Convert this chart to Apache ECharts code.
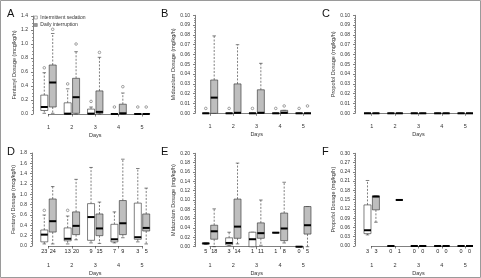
<!DOCTYPE html>
<html>
<head>
<meta charset="utf-8">
<script src="https://cdn.jsdelivr.net/npm/echarts@6/dist/echarts.min.js"></script>
<style>
  html, body { margin: 0; padding: 0; background: #fff; }
  #main { width: 481px; height: 278px; }
</style>
</head>
<body>
<div id="main"></div>
<script>
// 每组数据: [min, Q1, median, Q3, max]，按第 1-5 天排列
var days = [1, 2, 3, 4, 5];
var seriesNames = ['Intermittent sedation', 'Daily interruption'];

// A 芬太尼（未调整）
var fentA_sed = [[0.01, 0.05, 0.10, 0.27, 0.59], [0, 0, 0.005, 0.16, 0.36], [0, 0, 0.005, 0.07, 0.10], [0, 0, 0, 0.005, 0.005], [0, 0, 0, 0.005, 0.005]];
var fentA_int = [[0.01, 0.10, 0.45, 0.70, 1.15], [0, 0.01, 0.24, 0.51, 0.89], [0, 0.01, 0.03, 0.33, 0.81], [0, 0, 0.01, 0.14, 0.30], [0, 0, 0, 0.005, 0.005]];
var fentA_sedOut = [[1, 0.66], [2, 0.43], [3, 0.18], [4, 0.10], [5, 0.10]];
var fentA_intOut = [[1, 1.21], [2, 1.00], [3, 0.88], [4, 0.39], [5, 0.10]];

// B 咪达唑仑
var midaB_sed = [[0, 0, 0, 0, 0], [0, 0, 0, 0, 0], [0, 0, 0, 0, 0], [0, 0, 0, 0, 0], [0, 0, 0, 0, 0]];
var midaB_int = [[0, 0, 0.016, 0.034, 0.079], [0, 0, 0.0005, 0.030, 0.070], [0, 0, 0.0005, 0.024, 0.051], [0, 0, 0.0005, 0.003, 0.003], [0, 0, 0, 0, 0]];
var midaB_sedOut = [[1, 0.005], [2, 0.005], [3, 0.005], [4, 0.005], [5, 0.005]];
var midaB_intOut = [[4, 0.0075], [5, 0.0075]];

// C 丙泊酚
var propC_sed = [[0, 0, 0, 0, 0], [0, 0, 0, 0, 0], [0, 0, 0, 0, 0], [0, 0, 0, 0, 0], [0, 0, 0, 0, 0]];
var propC_int = [[0, 0, 0, 0, 0], [0, 0, 0, 0, 0], [0, 0, 0, 0, 0], [0, 0, 0, 0, 0], [0, 0, 0, 0, 0]];

// D 芬太尼（按使用者）
var fentD_sed = [[0.04, 0.08, 0.22, 0.31, 0.60], [0.04, 0.10, 0.14, 0.35, 0.58], [0.06, 0.11, 0.56, 0.82, 1.52], [0.06, 0.08, 0.13, 0.42, 0.66], [0.08, 0.13, 0.17, 0.83, 1.50]];
var fentD_int = [[0.04, 0.27, 0.48, 0.91, 1.15], [0.12, 0.22, 0.39, 0.66, 1.29], [0.05, 0.20, 0.34, 0.62, 0.85], [0.16, 0.22, 0.44, 0.88, 1.68], [0.04, 0.29, 0.35, 0.62, 1.12]];
var fentD_sedOut = [[1, 0.69], [2, 0.69]];
var fentD_n_sed = [23, 13, 9, 7, 3];
var fentD_n_int = [24, 20, 15, 9, 5];

// E 咪达唑仑（按使用者）
var midaE_sed = [[0.005, 0.006, 0.007, 0.008, 0.008], [0.003, 0.004, 0.008, 0.019, 0.031], [0, 0, 0.016, 0.031, 0.031], [0.030, 0.030, 0.030, 0.030, 0.030], [0, 0, 0, 0, 0]];
var midaE_int = [[0, 0.016, 0.033, 0.046, 0.081], [0.006, 0.018, 0.043, 0.102, 0.179], [0.003, 0.018, 0.029, 0.051, 0.100], [0.008, 0.013, 0.039, 0.072, 0.138], [0, 0.027, 0.046, 0.086, 0.086]];
var midaE_n_sed = [5, 3, 1, 1, 0];
var midaE_n_int = [18, 14, 11, 8, 5];

// F 丙泊酚（按使用者）
var propF_sed = [[0.036, 0.040, 0.051, 0.133, 0.212], [0, 0, 0, 0, 0], [0, 0, 0, 0, 0], [0, 0, 0, 0, 0], [0, 0, 0, 0, 0]];
var propF_int = [[0.077, 0.117, 0.160, 0.162, 0.162], [0.149, 0.149, 0.149, 0.149, 0.149], [0, 0, 0, 0, 0], [0, 0, 0, 0, 0], [0, 0, 0, 0, 0]];
var propF_n_sed = [3, 0, 0, 0, 0];
var propF_n_int = [3, 1, 0, 0, 0];

var FONT = "'Liberation Sans', Arial, sans-serif";
var INK = '#2a2a2a';
var SHIFT = 0.18;   // 两组箱体相对天数的偏移
var BOXW = 0.3;     // 箱体宽度（天）

var option = {
    animation: false,
    textStyle: { fontFamily: FONT },
    title: [],
    legend: {
        left: 34, top: 15, orient: 'vertical', padding: 0,
        itemWidth: 3, itemHeight: 3, itemGap: 2.5,
        textStyle: { fontSize: 5, color: '#333', fontFamily: FONT, padding: [0, 0, 0, -2] },
        data: [
            { name: seriesNames[0], icon: 'rect', itemStyle: { color: '#fff', borderColor: '#777', borderWidth: 0.6 } },
            { name: seriesNames[1], icon: 'rect', itemStyle: { color: '#999', borderColor: '#777', borderWidth: 0.6 } }
        ]
    },
    grid: [], xAxis: [], yAxis: [], series: [],
    graphic: [{
        type: 'rect', shape: { x: 0.5, y: 0.5, width: 480, height: 277 },
        style: { fill: 'none', stroke: '#9a9a9a', lineWidth: 1 }, silent: true
    }]
};

function boxRenderer(shift, fill) {
    return function (params, api) {
        var x = api.value(0) + shift;
        var mn = api.coord([x, api.value(1)]);
        var q1 = api.coord([x, api.value(2)]);
        var md = api.coord([x, api.value(3)]);
        var q3 = api.coord([x, api.value(4)]);
        var mx = api.coord([x, api.value(5)]);
        var w = api.size([BOXW, 0])[0];
        var cx = q1[0];
        var dash = { stroke: INK, lineWidth: 0.6, lineDash: [2, 1.5], fill: null };
        var solid = { stroke: INK, lineWidth: 0.6, fill: null };
        return {
            type: 'group',
            children: [
                { type: 'line', shape: { x1: cx, y1: q3[1], x2: cx, y2: mx[1] }, style: dash },
                { type: 'line', shape: { x1: cx, y1: q1[1], x2: cx, y2: mn[1] }, style: dash },
                { type: 'line', shape: { x1: cx - w / 4, y1: mx[1], x2: cx + w / 4, y2: mx[1] }, style: solid },
                { type: 'line', shape: { x1: cx - w / 4, y1: mn[1], x2: cx + w / 4, y2: mn[1] }, style: solid },
                { type: 'rect', shape: { x: cx - w / 2, y: q3[1], width: w, height: q1[1] - q3[1] },
                  style: { fill: fill, stroke: INK, lineWidth: 0.6 } },
                { type: 'line', shape: { x1: cx - w / 2, y1: md[1], x2: cx + w / 2, y2: md[1] },
                  style: { stroke: '#000', lineWidth: 2 } }
            ]
        };
    };
}

function countRenderer(shift) {
    return function (params, api) {
        var p = api.coord([api.value(0) + shift, 0]);
        return {
            type: 'text',
            style: { x: p[0], y: p[1] + 5, text: String(api.value(1)), align: 'center', verticalAlign: 'middle',
                     fontSize: 5.5, fontFamily: FONT, fill: '#222' }
        };
    };
}

function addPanel(p) {
    var gi = option.grid.length;
    option.grid.push({ left: p.left, right: p.right, top: p.top, bottom: p.bottom });
    option.title.push({ text: p.letter, left: p.letterX, top: p.letterY, padding: 0,
        textStyle: { fontSize: 11, fontWeight: 'normal', color: '#111', fontFamily: FONT } });
    option.xAxis.push({
        gridIndex: gi, type: 'value', min: 1, max: 5, interval: 1, offset: p.xOffset,
        name: 'Days', nameLocation: 'middle', nameGap: p.daysGap,
        nameTextStyle: { fontSize: 5.5, color: '#333' },
        axisLine: { show: true, lineStyle: { color: INK, width: 0.6 } },
        axisTick: { show: true, length: 2.5, lineStyle: { color: INK, width: 0.6 } },
        axisLabel: { fontSize: 5.5, color: '#333', margin: p.dayMargin },
        splitLine: { show: false }
    });
    option.yAxis.push({
        gridIndex: gi, type: 'value', min: 0, max: p.ymax, interval: p.step, offset: p.yOffset,
        name: p.yName, nameLocation: 'middle', nameGap: p.nameGap,
        nameTextStyle: { fontSize: 5.5, color: '#333' },
        axisLine: { show: true, lineStyle: { color: INK, width: 0.6 } },
        axisTick: { show: true, length: 2, lineStyle: { color: INK, width: 0.6 } },
        minorTick: { show: true, splitNumber: 4, length: 1, lineStyle: { color: INK, width: 0.5 } },
        axisLabel: { fontSize: 5, color: '#333', margin: 5,
            formatter: function (v) { return v.toFixed(p.dec); } },
        splitLine: { show: false }
    });
    var groups = [
        { name: seriesNames[0], box: p.sed, shift: -SHIFT, fill: '#ffffff', out: p.sedOut, n: p.nSed },
        { name: seriesNames[1], box: p.int, shift: SHIFT, fill: '#bebebe', out: p.intOut, n: p.nInt }
    ];
    groups.forEach(function (g) {
        option.series.push({
            type: 'custom', name: g.name, xAxisIndex: gi, yAxisIndex: gi,
            itemStyle: { color: g.fill }, clip: false,
            renderItem: boxRenderer(g.shift, g.fill),
            encode: { x: 0, y: [1, 2, 3, 4, 5] },
            data: g.box.map(function (b, i) { return [days[i]].concat(b); }),
            z: 3
        });
        if (g.out && g.out.length) {
            option.series.push({
                type: 'scatter', name: g.name, xAxisIndex: gi, yAxisIndex: gi,
                symbol: 'circle', symbolSize: 2.6, clip: false,
                itemStyle: { color: '#fff', borderColor: '#444', borderWidth: 0.6 },
                data: g.out.map(function (o) { return [o[0] + g.shift, o[1]]; }),
                z: 4
            });
        }
        if (g.n) {
            option.series.push({
                type: 'custom', name: g.name + ' n', xAxisIndex: gi, yAxisIndex: gi, clip: false,
                renderItem: countRenderer(g.shift),
                encode: { x: 0, y: 1 },
                data: g.n.map(function (n, i) { return [days[i], n]; }),
                z: 5
            });
        }
    });
}

addPanel({ letter: 'A', letterX: 7, letterY: 8, left: 48.5, right: 339, top: 16, bottom: 164,
    xOffset: 4, yOffset: 15.5, ymax: 1.4, step: 0.2, dec: 1, dayMargin: 6, daysGap: 14, nameGap: 14,
    yName: 'Fentanyl Dosage (mcg/kg/h)', sed: fentA_sed, int: fentA_int, sedOut: fentA_sedOut, intOut: fentA_intOut });
addPanel({ letter: 'B', letterX: 161, letterY: 8, left: 210, right: 177.7, top: 15.3, bottom: 164.7,
    xOffset: 4, yOffset: 15, ymax: 0.10, step: 0.01, dec: 2, dayMargin: 6, daysGap: 14, nameGap: 18,
    yName: 'Midazolam Dosage (mg/kg/h)', sed: midaB_sed, int: midaB_int, sedOut: midaB_sedOut, intOut: midaB_intOut });
addPanel({ letter: 'C', letterX: 322, letterY: 8, left: 371.7, right: 15.7, top: 15.3, bottom: 164.7,
    xOffset: 4, yOffset: 16.7, ymax: 0.10, step: 0.01, dec: 2, dayMargin: 6, daysGap: 14, nameGap: 18,
    yName: 'Propofol Dosage (mg/kg/h)', sed: propC_sed, int: propC_int });
addPanel({ letter: 'D', letterX: 7, letterY: 146, left: 48.5, right: 339, top: 153, bottom: 32,
    xOffset: 8, yOffset: 16.5, ymax: 1.8, step: 0.2, dec: 1, dayMargin: 8, daysGap: 16, nameGap: 14,
    yName: 'Fentanyl Dosage (mcg/kg/h)', sed: fentD_sed, int: fentD_int, sedOut: fentD_sedOut, nSed: fentD_n_sed, nInt: fentD_n_int });
addPanel({ letter: 'E', letterX: 161, letterY: 146, left: 210, right: 177.7, top: 153.3, bottom: 31.3,
    xOffset: 8, yOffset: 15, ymax: 0.20, step: 0.02, dec: 2, dayMargin: 8, daysGap: 16, nameGap: 18,
    yName: 'Midazolam Dosage (mg/kg/h)', sed: midaE_sed, int: midaE_int, nSed: midaE_n_sed, nInt: midaE_n_int });
addPanel({ letter: 'F', letterX: 322, letterY: 146, left: 371.7, right: 15.7, top: 153.3, bottom: 32,
    xOffset: 8.5, yOffset: 16.7, ymax: 0.30, step: 0.03, dec: 2, dayMargin: 8, daysGap: 16, nameGap: 18,
    yName: 'Propofol Dosage (mg/kg/h)', sed: propF_sed, int: propF_int, nSed: propF_n_sed, nInt: propF_n_int });

var chart = echarts.init(document.getElementById('main'));
chart.setOption(option);
</script>
</body>
</html>
